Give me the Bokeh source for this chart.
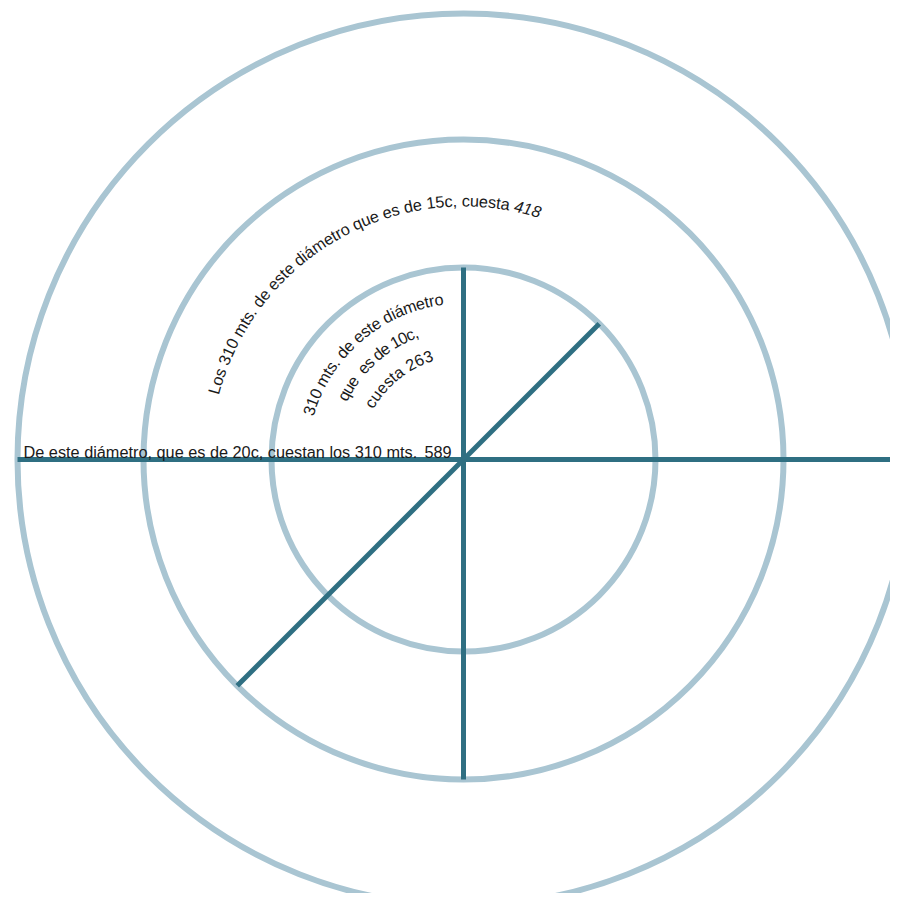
import math
from bokeh.plotting import figure
from bokeh.models import ColumnDataSource, Range1d
from bokeh.embed import file_html
from bokeh.resources import INLINE
from bokeh.core.properties import value

# ---- data ----
ring_labels = ["10c", "15c", "20c"]
ring_costs = [263, 418, 589]
ring_radius = [192, 320, 446]

spoke_angle_deg = [0, 180, 90, 45, 270, 225]
spoke_ring = [2, 2, 0, 0, 1, 1]

caption_outer = "De este diámetro, que es de 20c, cuestan los 310 mts."
caption_middle = "Los 310 mts. de este diámetro que es de 15c, cuesta 418"
caption_inner = ["310 mts. de este diámetro", "que  es de 10c,", "cuesta 263"]

# ---- styling / layout ----
RING_COLOR = "#a9c5d2"
SPOKE_COLOR = "#2f6f82"
TEXT_COLOR = "#1a1a1a"
FONT = "Liberation Sans"
FS = 16.3

# Arial-compatible advance widths (per 1000 em)
W = {" ": 278, ",": 278, ".": 278, "a": 556, "b": 556, "c": 500, "d": 556, "e": 556,
     "f": 278, "i": 222, "l": 222, "m": 833, "n": 556, "o": 556, "q": 556, "r": 333,
     "s": 500, "t": 278, "u": 556, "á": 556, "L": 556, "D": 722}


def cw(ch):
    return W.get(ch, 556) / 1000.0


W_PX, H_PX = 890, 893
CX, CY = 463, 459  # center in picture pixels
p = figure(width=W_PX, height=H_PX, output_backend="svg", toolbar_location=None,
           x_axis_type=None, y_axis_type=None,
           x_range=Range1d(-CX, W_PX - CX),
           y_range=Range1d(CY - H_PX, CY))
p.min_border = 0
p.outline_line_color = None
p.grid.visible = False
p.background_fill_color = "white"

# rings
rings = ColumnDataSource(dict(x=[0] * len(ring_radius), y=[0] * len(ring_radius),
                              r=ring_radius, label=ring_labels, cost=ring_costs))
p.circle(x="x", y="y", radius="r", source=rings, fill_color=None,
         line_color=RING_COLOR, line_width=6)

# spokes
x1 = [ring_radius[k] * math.cos(math.radians(a)) for a, k in zip(spoke_angle_deg, spoke_ring)]
y1 = [ring_radius[k] * math.sin(math.radians(a)) for a, k in zip(spoke_angle_deg, spoke_ring)]
p.segment(x0=[0] * len(x1), y0=[0] * len(y1), x1=x1, y1=y1,
          line_color=SPOKE_COLOR, line_width=5, line_cap="butt")

# horizontal caption + its cost
p.text(x=[-440, -39], y=[8, 8], text=[caption_outer, str(ring_costs[2])],
       text_font=value(FONT), text_font_size=f"{FS}px", text_color=TEXT_COLOR,
       text_align="left", text_baseline="alphabetic")

# curved captions: (text, baseline radius, start deg, end deg)
arcs = [(caption_middle, 259, 165.3, 72.6),
        (caption_inner[0], 162, 164.0, 97.2),
        (caption_inner[1], 136, 153.7, 109.8),
        (caption_inner[2], 109, 151.0, 106.5)]

xs, ys, angs, chars, styles = [], [], [], [], []
for txt, r, a0, a1 in arcs:
    widths = [cw(c) * FS for c in txt]
    total = sum(widths)
    k = r * math.radians(a0 - a1) / total
    s = 0.0
    italic_start = len(txt) - 3 if txt == caption_middle else len(txt) + 1
    for i, (c, w) in enumerate(zip(txt, widths)):
        mid = (s + w / 2) * k
        th = math.radians(a0) - mid / r
        s += w
        if c == " ":
            continue
        xs.append(r * math.cos(th))
        ys.append(r * math.sin(th))
        angs.append(th - math.pi / 2)
        chars.append(c)
        styles.append("italic" if i >= italic_start else "normal")

src = ColumnDataSource(dict(x=xs, y=ys, a=angs, t=chars, st=styles))
p.text(x="x", y="y", text="t", angle="a", source=src, text_font=value(FONT),
       text_font_size=f"{FS}px", text_font_style="st", text_color=TEXT_COLOR,
       text_align="center", text_baseline="alphabetic")

open("out.html", "w").write(file_html(p, INLINE))
